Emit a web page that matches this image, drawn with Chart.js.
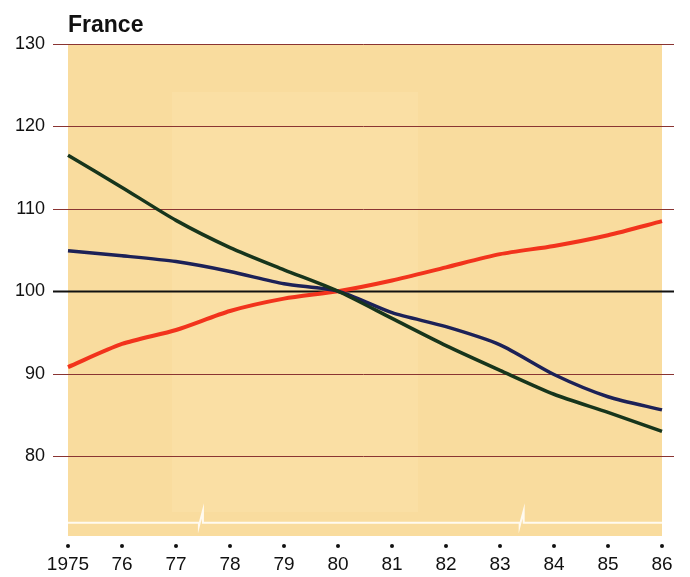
<!DOCTYPE html>
<html>
<head>
<meta charset="utf-8">
<script src="https://cdn.jsdelivr.net/npm/chart.js@4.4.1/dist/chart.umd.min.js"></script>
<style>
  html, body { margin: 0; padding: 0; background: #fff; }
  #wrap { width: 690px; height: 577px; }
</style>
</head>
<body>
<div id="wrap"><canvas id="myChart" width="690" height="577"></canvas></div>
<script>
// chart data
var years = ['1975', '76', '77', '78', '79', '80', '81', '82', '83', '84', '85', '86'];
var redSeries   = [90.8, 93.6, 95.3, 97.6, 99.1, 100, 101.3, 102.9, 104.5, 105.5, 106.8, 108.5];
var navySeries  = [104.9, 104.3, 103.6, 102.4, 100.9, 100, 97.4, 95.7, 93.5, 89.9, 87.2, 85.6];
var greenSeries = [116.5, 112.6, 108.6, 105.3, 102.6, 100, 96.7, 93.4, 90.4, 87.5, 85.3, 83.0];
var yTicks = [80, 90, 100, 110, 120, 130];
var breakAt = [2.48, 8.42]; // x positions (in year index) of the axis break marks

var bgColor = '#f9dc9e';

// background, grid lines, break line and tick dots
var decor = {
  id: 'decor',
  beforeDatasetsDraw: function (chart) {
    var c = chart.ctx, a = chart.chartArea;
    var ys = chart.scales.y, xs = chart.scales.x;
    c.save();
    c.fillStyle = bgColor;
    c.fillRect(a.left, a.top, a.right - a.left, a.bottom - a.top);
    // slightly lighter middle panel
    c.fillStyle = 'rgba(255,240,200,0.15)';
    c.fillRect(a.left + 104, a.top + 48, 246, 420);

    yTicks.forEach(function (v) {
      var py = Math.round(ys.getPixelForValue(v)) + 0.5;
      c.beginPath();
      c.moveTo(a.left - 15, py);
      c.lineTo(a.right + 12, py);
      if (v === 100) {
        c.strokeStyle = '#111';
        c.lineWidth = 2;
      } else {
        c.strokeStyle = '#8a3432';
        c.lineWidth = 1;
      }
      c.stroke();
    });

    // white broken baseline
    var by = ys.getPixelForValue(71.9);
    c.strokeStyle = '#fffaf0';
    c.lineWidth = 2;
    c.beginPath();
    c.moveTo(a.left, by);
    breakAt.forEach(function (b) {
      var bx = xs.getPixelForValue(b);
      c.lineTo(bx - 3, by);
      c.lineTo(bx - 3, by + 3);
      c.lineTo(bx + 1, by - 12);
      c.lineTo(bx + 1, by);
    });
    c.lineTo(a.right, by);
    c.stroke();

    // dots above the year labels
    c.fillStyle = '#111';
    xs.ticks.forEach(function (t, i) {
      var px = xs.getPixelForTick(i);
      c.beginPath();
      c.arc(px, a.bottom + 10, 2, 0, Math.PI * 2);
      c.fill();
    });

    // title
    c.fillStyle = '#111';
    c.font = 'bold 23px "Liberation Sans", Arial, sans-serif';
    c.textBaseline = 'alphabetic';
    c.textAlign = 'left';
    c.fillText('France', a.left, 32);
    c.restore();
  }
};

var ctx = document.getElementById('myChart').getContext('2d');
var myChart = new Chart(ctx, {
  type: 'line',
  data: {
    labels: years,
    datasets: [
      { data: greenSeries, borderColor: '#17351c', borderWidth: 3.5 },
      { data: navySeries, borderColor: '#1c2157', borderWidth: 3.5 },
      { data: redSeries, borderColor: '#f2331c', borderWidth: 4 }
    ]
  },
  options: {
    responsive: false,
    animation: false,
    layout: { padding: { top: 44, right: 28, left: 0, bottom: 0 } },
    elements: {
      point: { radius: 0 },
      line: { tension: 0.25, borderCapStyle: 'butt', borderJoinStyle: 'round' }
    },
    scales: {
      x: {
        type: 'category',
        offset: false,
        grid: { display: false },
        border: { display: false },
        ticks: {
          padding: 9,
          color: '#111',
          autoSkip: false,
          maxRotation: 0,
          font: { family: '"Liberation Sans", Arial, sans-serif', size: 19 }
        },
        afterFit: function (scale) { scale.height = 41; }
      },
      y: {
        min: 70.3,
        max: 130,
        grid: { display: false },
        border: { display: false },
        afterBuildTicks: function (axis) {
          axis.ticks = yTicks.map(function (v) { return { value: v }; });
        },
        afterFit: function (scale) { scale.width = 68; },
        ticks: {
          padding: 15,
          color: '#111',
          font: { family: '"Liberation Sans", Arial, sans-serif', size: 18 }
        }
      }
    },
    plugins: {
      legend: { display: false },
      tooltip: { enabled: false }
    }
  },
  plugins: [decor]
});
</script>
</body>
</html>
